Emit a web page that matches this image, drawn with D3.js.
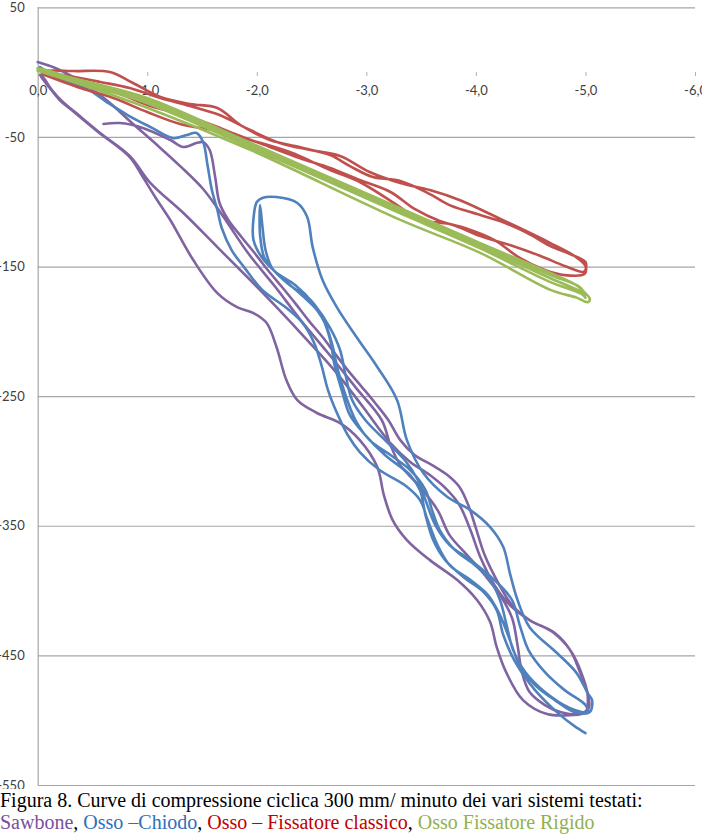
<!DOCTYPE html>
<html>
<head>
<meta charset="utf-8">
<script src="https://cdn.jsdelivr.net/npm/d3@7"></script>
<style>
  html, body { margin: 0; padding: 0; background: #fff; }
  svg { display: block; }
</style>
</head>
<body>
<svg id="chart" width="702" height="834"></svg>
<script>
// ---------- DATA (displacement mm, load N) ----------
const xTicks = [0, -1, -2, -3, -4, -5, -6];
const yTicks = [50, -50, -150, -250, -350, -450, -550];

const seriesNames = ["Sawbone", "Osso \u2013Chiodo", "Osso \u2013 Fissatore classico", "Osso Fissatore Rigido"];
const seriesColors = ["#8064a2", "#4f81bd", "#c0504d", "#9bbb59"];

// Sawbone (purple)
const sawbone = [
  [-0.60,-40.0],[-0.75,-39.3],[-0.96,-43.1],[-1.21,-52.4],[-1.33,-57.8],[-1.45,-54.7],[-1.51,-54.0],[-1.57,-60.1],
  [-1.62,-81.0],[-1.66,-101.0],[-1.74,-114.1],[-1.86,-127.2],[-1.98,-139.6],[-2.10,-152.7],[-2.23,-165.8],[-2.35,-178.2],
  [-2.47,-191.3],[-2.60,-204.4],[-2.71,-216.7],[-2.83,-229.9],[-2.96,-243.0],[-3.08,-255.3],[-3.20,-268.4],[-3.31,-283.9],
  [-3.44,-295.4],[-3.60,-303.2],[-3.74,-310.9],[-3.85,-320.1],[-3.93,-334.0],[-4.00,-351.8],[-4.08,-372.6],[-4.19,-391.9],
  [-4.33,-411.2],[-4.49,-422.8],[-4.70,-432.0],[-4.86,-445.9],[-4.96,-462.9],[-5.02,-480.6],[-5.00,-493.7],[-4.86,-496.1],
  [-4.65,-495.3],[-4.43,-484.5],[-4.28,-463.7],[-4.19,-443.6],[-4.13,-424.3],[-4.01,-407.3],[-3.83,-391.9],[-3.58,-376.5],
  [-3.37,-361.0],[-3.24,-345.6],[-3.16,-326.3],[-3.10,-304.7],[-2.94,-283.9],[-2.76,-270.8],[-2.55,-263.0],[-2.37,-253.0],
  [-2.27,-237.6],[-2.18,-212.1],[-2.09,-193.6],[-1.97,-185.9],[-1.82,-181.3],[-1.64,-170.5],[-1.42,-145.0],[-1.21,-114.1],
  [-1.09,-98.7],[-0.96,-81.0],[-0.84,-65.5],[-0.54,-45.4],[-0.31,-29.3],[-0.20,-21.5],[-0.11,-12.3],[-0.02,-2.2],
  [-0.04,-3.0],[-0.13,-13.8],[-0.23,-23.1],[-0.34,-30.8],[-0.57,-47.0],[-0.84,-64.7],[-1.03,-85.6],[-1.33,-108.7],
  [-1.64,-135.0],[-1.94,-160.4],[-2.18,-181.3],[-2.46,-206.7],[-2.73,-232.2],[-2.97,-258.4],[-3.22,-286.2],[-3.40,-300.8],
  [-3.58,-310.9],[-3.74,-322.5],[-3.85,-334.0],[-3.95,-353.3],[-4.04,-374.1],[-4.17,-395.8],[-4.31,-411.2],[-4.49,-422.8],
  [-4.72,-432.8],[-4.86,-445.9],[-4.95,-462.9],[-5.02,-479.1],[-5.03,-490.7],[-4.93,-495.3],
  [-4.77,-493.7],[-4.63,-488.3],[-4.49,-478.3],[-4.42,-462.9],[-4.38,-442.1],[-4.33,-421.2],[-4.22,-403.5],[-4.08,-388.0],
  [-3.92,-372.6],[-3.76,-357.2],[-3.65,-337.9],[-3.49,-320.1],[-3.31,-303.2],[-3.22,-287.7],[-3.14,-268.4],[-2.90,-243.0],
  [-2.65,-216.7],[-2.40,-191.3],[-2.17,-165.8],[-1.92,-139.6],[-1.69,-111.0],[-1.51,-90.2],[-1.30,-72.5],[-1.09,-56.3],
  [-0.84,-37.7],[-0.66,-23.8],[-0.48,-12.3],[-0.34,-4.6],[-0.16,3.2],[0.00,7.8]
];

// Osso - Chiodo (blue)
const chiodo = [
  [-0.02,3.9],[-0.23,-6.1],[-0.45,-13.0],[-0.63,-23.1],[-0.82,-33.1],[-1.03,-42.4],[-1.24,-50.9],[-1.36,-48.5],
  [-1.45,-47.0],[-1.51,-54.0],[-1.55,-71.7],[-1.59,-91.0],[-1.64,-106.4],[-1.68,-120.3],[-1.77,-137.3],[-1.89,-151.2],
  [-2.05,-168.1],[-2.26,-181.3],[-2.41,-192.8],[-2.52,-208.3],[-2.59,-226.0],[-2.65,-245.3],[-2.74,-264.6],[-2.83,-280.0],
  [-2.94,-293.1],[-3.12,-307.0],[-3.35,-318.6],[-3.49,-330.2],[-3.56,-345.6],[-3.65,-364.9],[-3.76,-380.3],[-3.95,-391.9],
  [-4.11,-403.5],[-4.22,-418.9],[-4.31,-438.2],[-4.40,-457.5],[-4.54,-472.9],[-4.72,-484.5],[-4.90,-493.7],[-5.04,-493.7],
  [-5.06,-484.5],[-5.02,-479.1],[-4.92,-463.7],[-4.74,-448.2],[-4.49,-428.2],[-4.38,-407.3],[-4.31,-386.5],[-4.25,-366.4],
  [-4.13,-351.0],[-3.95,-337.9],[-3.74,-327.8],[-3.52,-309.3],[-3.37,-283.9],[-3.28,-253.0],[-3.10,-227.5],[-2.91,-204.4],
  [-2.73,-181.3],[-2.60,-160.4],[-2.51,-135.0],[-2.46,-111.8],[-2.37,-101.0],[-2.18,-96.4],[-2.05,-97.1],[-2.00,-100.2],
  [-1.97,-112.6],[-1.97,-129.6],[-2.05,-143.4],[-2.23,-158.9],[-2.42,-172.8],[-2.55,-183.6],[-2.63,-195.1],[-2.69,-210.6],
  [-2.74,-229.9],[-2.81,-249.2],[-2.90,-268.4],[-3.03,-283.9],[-3.22,-295.4],[-3.40,-307.0],[-3.54,-322.5],[-3.60,-337.9],
  [-3.67,-353.3],[-3.81,-368.8],[-3.99,-380.3],[-4.13,-391.9],[-4.22,-407.3],[-4.28,-426.6],[-4.34,-445.9],[-4.45,-462.9],
  [-4.63,-478.3],[-4.86,-490.7],[-5.02,-493.7],
  [-5.00,-488.3],[-4.81,-476.8],[-4.63,-462.9],[-4.48,-445.9],[-4.40,-426.6],[-4.33,-407.3],[-4.17,-391.9],[-3.95,-376.5],
  [-3.76,-364.9],[-3.63,-349.5],[-3.54,-330.2],[-3.47,-314.7],[-3.35,-299.3],[-3.17,-283.9],[-2.99,-268.4],[-2.87,-253.0],
  [-2.81,-233.7],[-2.76,-214.4],[-2.67,-197.5],[-2.53,-179.7],[-2.35,-164.3],[-2.17,-154.2],[-2.07,-143.4],[-2.03,-125.7],
  [-2.03,-102.5],
  [-2.05,-118.0],[-2.08,-137.3],[-2.14,-151.2],[-2.30,-164.3],[-2.49,-175.8],[-2.60,-189.7],[-2.67,-206.7],[-2.71,-226.0],
  [-2.78,-246.8],[-2.85,-264.6],[-2.99,-280.0],[-3.17,-295.4],[-3.40,-310.9],[-3.49,-322.5],[-3.54,-341.8],[-3.61,-361.0],
  [-3.72,-376.5],[-3.90,-390.4],[-4.07,-401.2],[-4.19,-415.1],[-4.25,-434.3],[-4.36,-455.2],[-4.54,-476.8],[-4.77,-496.1],
  [-4.90,-504.6],[-5.00,-510.0]
];

// Osso - Fissatore classico (red)
const classico = [
  [-0.04,-1.5],[-0.39,-12.3],[-0.69,-20.0],[-1.00,-30.8],[-1.30,-40.0],[-1.64,-45.4],[-1.94,-52.4],[-2.30,-61.7],
  [-2.67,-75.5],[-2.94,-84.8],[-3.28,-102.6],[-3.49,-114.1],[-3.76,-117.2],[-4.04,-126.5],[-4.31,-133.4],[-4.59,-141.9],
  [-4.81,-149.6],[-4.98,-154.2],
  [-5.00,-152.7],[-5.00,-146.5],[-4.86,-140.4],[-4.68,-134.2],[-4.47,-124.2],[-4.22,-114.9],[-3.95,-108.0],[-3.76,-102.6],
  [-3.58,-94.1],[-3.31,-84.0],[-3.06,-81.0],[-2.85,-72.5],[-2.67,-64.0],[-2.39,-57.8],[-2.12,-52.4],[-1.85,-40.8],
  [-1.64,-27.7],[-1.39,-24.6],[-1.12,-19.2],[-0.87,-8.4],[-0.66,0.1],[-0.34,0.8],[-0.07,0.8],
  [-0.07,0.1],[-0.29,-3.0],[-0.57,-7.6],[-0.84,-12.3],[-1.12,-20.0],[-1.39,-26.2],[-1.66,-33.1],[-1.94,-44.7],
  [-2.21,-54.7],[-2.49,-60.1],[-2.76,-64.7],[-3.03,-77.1],[-3.31,-85.6],[-3.58,-91.0],[-3.85,-98.7],[-4.13,-109.5],
  [-4.40,-120.3],[-4.68,-131.9],[-4.90,-141.9],[-5.00,-149.6],
  [-4.99,-155.8],[-4.81,-156.6],[-4.63,-152.7],[-4.40,-143.4],[-4.17,-129.6],[-3.90,-120.3],[-3.67,-114.9],[-3.44,-105.6],
  [-3.22,-92.5],[-2.94,-83.3],[-2.67,-74.0],[-2.39,-66.3],[-2.12,-57.8],[-1.85,-49.3],[-1.57,-40.0],[-1.30,-32.3],
  [-1.03,-26.2],[-0.75,-16.9],[-0.48,-10.0],[-0.20,-4.6],[-0.04,-0.7]
];

// Osso Fissatore Rigido (green)
const rigido = [
  [0.00,1.0],[-0.48,-12.0],[-1.00,-27.5],[-1.94,-60.0],[-3.31,-114.0],[-4.04,-139.5],[-4.68,-168.0],[-4.92,-174.0],[-5.02,-177.5],
  [-5.04,-175.0],[-4.98,-169.0],
  [-4.92,-164.5],[-4.68,-155.0],[-4.04,-132.0],[-3.31,-105.0],[-1.94,-54.5],[-1.00,-20.0],[-0.48,-8.0],[0.00,2.0],
  [-0.02,1.5],[-0.48,-9.5],[-1.00,-22.5],[-1.94,-57.0],[-3.31,-107.5],[-4.04,-134.5],[-4.68,-159.0],[-4.95,-169.0],[-5.00,-172.0],
  [-4.95,-166.0],[-4.68,-156.5],[-4.04,-133.0],[-3.31,-106.0],[-1.94,-55.5],[-1.00,-21.0],[-0.48,-9.0],[0.00,3.0],
  [0.00,2.5],[-0.48,-10.5],[-1.00,-24.0],[-1.94,-58.0],[-3.31,-109.0],[-4.04,-136.0],[-4.68,-162.0],[-4.96,-171.0],[-5.00,-174.0]
];

const seriesData = [sawbone, chiodo, classico, rigido];

// ---------- CHART ----------
const svg = d3.select("#chart");
const pLeft = 37.7, pRight = 695, pTop = 7.3, pBottom = 785;

const x = d3.scaleLinear().domain([0, -6]).range([pLeft, pRight]);
const y = d3.scaleLinear().domain([50, -550]).range([pTop, pBottom]);

const fontFam = "Lato, 'Liberation Sans', Arial, sans-serif";

// Y axis with gridlines
const yAxis = d3.axisLeft(y)
  .tickValues(yTicks)
  .tickSize(-(pRight - pLeft))
  .tickPadding(13)
  .tickFormat(d => String(d));
const gy = svg.append("g").attr("transform", `translate(${pLeft},0)`).call(yAxis);
gy.select(".domain").attr("stroke", "#a6a6a6").attr("stroke-width", 1.2).attr("d", `M0.5,${pTop}V${pBottom}`);
gy.selectAll(".tick line").attr("stroke", "#a6a6a6").attr("stroke-width", 1.2);
gy.selectAll(".tick text").attr("fill", "#404040").style("font-family", fontFam).style("font-size", "13px");

// X axis at y = 0 (ticks only)
const xAxis = d3.axisBottom(x)
  .tickValues(xTicks)
  .tickSize(4)
  .tickPadding(10)
  .tickFormat(d => d.toFixed(1).replace(".", ","));
const gx = svg.append("g").attr("transform", `translate(0,${y(0)})`).call(xAxis);
gx.select(".domain").remove();
gx.selectAll(".tick line").attr("stroke", "#b0b0b0");
gx.selectAll(".tick text").attr("fill", "#404040").style("font-family", fontFam).style("font-size", "13px");

// Series lines
const line = d3.line()
  .x(d => x(d[0]))
  .y(d => y(d[1]))
  .curve(d3.curveCatmullRom.alpha(0.5));

svg.append("g").selectAll("path")
  .data(seriesData)
  .join("path")
  .attr("d", d => line(d))
  .attr("fill", "none")
  .attr("stroke", (d, i) => seriesColors[i])
  .attr("stroke-width", 2.6)
  .attr("stroke-linejoin", "round")
  .attr("stroke-linecap", "round");

// Caption (page text below the chart; covers the bottom of the clipped "-550" label)
svg.append("rect").attr("x", 0).attr("y", 789).attr("width", 702).attr("height", 45).attr("fill", "#fff");

const capFont = "'Liberation Serif', 'Times New Roman', serif";
svg.append("text")
  .attr("x", 0).attr("y", 807)
  .style("font-family", capFont).style("font-size", "20px").attr("fill", "#000")
  .text("Figura 8. Curve di compressione ciclica 300 mm/ minuto dei vari sistemi testati:");

const capColors = ["#7a4f9f", "#2f6eba", "#c00000", "#92b050"];
const cap2 = svg.append("text")
  .attr("x", 0).attr("y", 829)
  .style("font-family", capFont).style("font-size", "20px");
seriesNames.forEach((name, i) => {
  cap2.append("tspan").attr("fill", capColors[i]).text(name);
  if (i < seriesNames.length - 1) cap2.append("tspan").attr("fill", "#000").text(", ");
});
</script>
</body>
</html>
